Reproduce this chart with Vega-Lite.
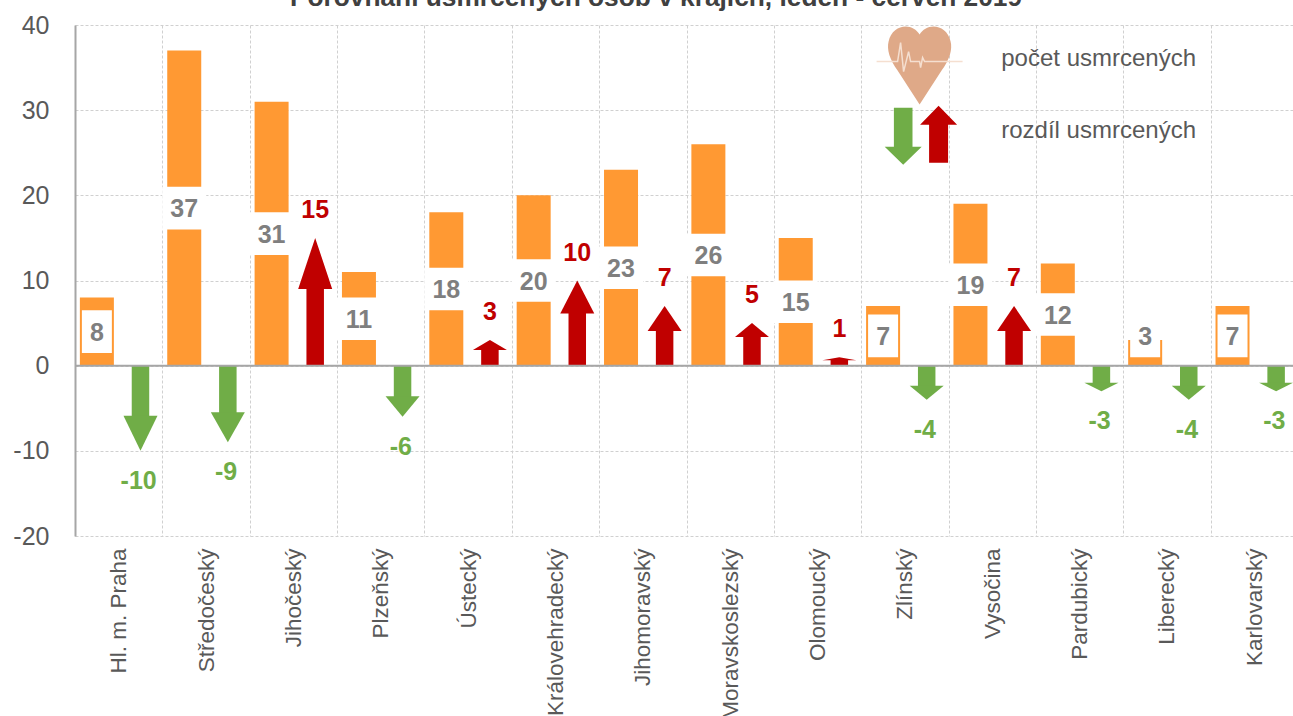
{"$schema":"https://vega.github.io/schema/vega-lite/v6.json","width":1218,"height":511,"autosize":{"type":"none"},"padding":{"left":75,"top":25,"right":0,"bottom":180},"background":"white",
"title":{"text":"Porovnání usmrcených osob v krajích, leden - červen 2019","font":"Liberation Sans","fontSize":26.3,"fontWeight":"bold","color":"#404040","anchor":"middle","frame":"group","dx":-28,"offset":2},
"config":{"view":{"stroke":null},"font":"Liberation Sans"},
"datasets":{"kraje":[
{"kraj":"Hl. m. Praha","pocet":8,"lo":1.5,"hi":6.5,"mid":4,"rozdil":-10,"krk":-6,"smer":"pokles"},
{"kraj":"Středočeský","pocet":37,"lo":16,"hi":21,"mid":18.5,"rozdil":-9,"krk":-5.6,"smer":"pokles"},
{"kraj":"Jihočeský","pocet":31,"lo":13,"hi":18,"mid":15.5,"rozdil":15,"krk":9.1,"smer":"nárůst"},
{"kraj":"Plzeňský","pocet":11,"lo":3,"hi":8,"mid":5.5,"rozdil":-6,"krk":-3.7,"smer":"pokles"},
{"kraj":"Ústecký","pocet":18,"lo":6.5,"hi":11.5,"mid":9,"rozdil":3,"krk":1.9,"smer":"nárůst"},
{"kraj":"Královehradecký","pocet":20,"lo":7.5,"hi":12.5,"mid":10,"rozdil":10,"krk":6.2,"smer":"nárůst"},
{"kraj":"Jihomoravský","pocet":23,"lo":9,"hi":14,"mid":11.5,"rozdil":7,"krk":4.15,"smer":"nárůst"},
{"kraj":"Moravskoslezský","pocet":26,"lo":10.5,"hi":15.5,"mid":13,"rozdil":5,"krk":3.45,"smer":"nárůst"},
{"kraj":"Olomoucký","pocet":15,"lo":5,"hi":10,"mid":7.5,"rozdil":1,"krk":0.7,"smer":"nárůst"},
{"kraj":"Zlínský","pocet":7,"lo":1,"hi":6,"mid":3.5,"rozdil":-4,"krk":-2.5,"smer":"pokles"},
{"kraj":"Vysočina","pocet":19,"lo":7,"hi":12,"mid":9.5,"rozdil":7,"krk":4.15,"smer":"nárůst"},
{"kraj":"Pardubický","pocet":12,"lo":3.5,"hi":8.5,"mid":6,"rozdil":-3,"krk":-2.1,"smer":"pokles"},
{"kraj":"Liberecký","pocet":3,"lo":1,"hi":6,"mid":3.5,"rozdil":-4,"krk":-2.5,"smer":"pokles"},
{"kraj":"Karlovarský","pocet":7,"lo":1,"hi":6,"mid":3.5,"rozdil":-3,"krk":-2.1,"smer":"pokles"}]},
"encoding":{
"x":{"field":"kraj","type":"nominal","sort":null,"title":null,"scale":{"range":[0,1223],"paddingInner":0,"paddingOuter":0},
"axis":{"tickBand":"extent","grid":true,"gridColor":"#d0d0d0","gridDash":[3,2],"gridWidth":1,"domain":false,"ticks":false,"labelAngle":-90,"labelAlign":"right","labelBaseline":"middle","labelFontSize":22.5,"labelColor":"#595959","labelPadding":12,"labelLimit":400,"labelFont":"Liberation Sans","labelOverlap":false}},
"y":{"type":"quantitative","title":null,"scale":{"domain":[-20,40],"nice":false,"zero":false},
"axis":{"values":[-20,-10,0,10,20,30,40],"labelExpr":"''+datum.value","grid":true,"gridColor":"#d0d0d0","gridDash":[3,2],"gridWidth":1,"domain":true,"domainColor":"#a6a6a6","domainWidth":2,"ticks":false,"labelFontSize":25,"labelColor":"#595959","labelPadding":26,"labelFont":"Liberation Sans"}}},
"layer":[
{"data":{"name":"kraje"},"mark":{"type":"bar","size":34,"color":"#FF9933","xOffset":-21.8},"encoding":{"y":{"field":"pocet"},"y2":{"datum":0}}},
{"data":{"name":"kraje"},"transform":[{"filter":"datum.pocet >= 10"}],"mark":{"type":"bar","size":44,"color":"white","xOffset":-21.8},"encoding":{"y":{"field":"lo"},"y2":{"field":"hi"}}},
{"data":{"name":"kraje"},"transform":[{"filter":"datum.pocet < 10"}],"mark":{"type":"bar","size":30,"color":"white","xOffset":-21.8},"encoding":{"y":{"field":"lo"},"y2":{"field":"hi"}}},
{"data":{"name":"kraje"},"mark":{"type":"text","font":"Liberation Sans","fontWeight":"bold","fontSize":25,"color":"#7F7F7F","xOffset":-21.8,"dy":1},"encoding":{"y":{"field":"mid"},"text":{"field":"pocet","type":"nominal"}}},
{"data":{"name":"kraje"},"mark":{"type":"bar","size":17.5,"xOffset":21.8},"encoding":{"y":{"field":"krk"},"y2":{"datum":0},"color":{"field":"smer","type":"nominal","scale":{"domain":["nárůst","pokles"],"range":["#C00000","#70AD47"]},"legend":null}}},
{"data":{"name":"kraje"},"mark":{"type":"point","filled":true,"size":4,"opacity":1,"strokeWidth":0,"xOffset":21.8},"encoding":{"y":{"field":"rozdil"},"color":{"field":"smer","type":"nominal","legend":null},
"shape":{"field":"rozdil","type":"nominal","legend":null,"scale":{"domain":[-10,-9,-6,-4,-3,1,3,5,7,10,15],"range":["M0,0L17,-35L-17,-35Z","M0,0L17,-30L-17,-30Z","M0,0L17,-20.5L-17,-20.5Z","M0,0L17,-14L-17,-14Z","M0,0L17,-8.5L-17,-8.5Z","M0,0L17,3L-17,3Z","M0,0L17,10L-17,10Z","M0,0L17,14L-17,14Z","M0,0L17,25L-17,25Z","M0,0L17,33L-17,33Z","M0,0L17,51L-17,51Z"]}}}},
{"data":{"name":"kraje"},"transform":[{"filter":"datum.rozdil > 0"}],"mark":{"type":"text","font":"Liberation Sans","fontWeight":"bold","fontSize":25,"color":"#C00000","xOffset":21.8,"dy":-28},"encoding":{"y":{"field":"rozdil"},"text":{"field":"rozdil","type":"nominal"}}},
{"data":{"name":"kraje"},"transform":[{"filter":"datum.rozdil < 0"}],"mark":{"type":"text","font":"Liberation Sans","fontWeight":"bold","fontSize":25,"color":"#70AD47","xOffset":20,"dy":30},"encoding":{"y":{"field":"rozdil"},"text":{"field":"rozdil","type":"nominal"}}},
{"data":{"values":[{"nula":0}]},"mark":{"type":"rule","color":"#a6a6a6","strokeWidth":2},"encoding":{"x":null,"y":{"field":"nula"}}},
{"data":{"values":[{"kraj":"Zlínský","poloha":35.7}]},"mark":{"type":"point","filled":true,"size":4,"opacity":1,"strokeWidth":0,"color":"#DFA988","xOffset":14.7,"shape":"M0,43L-22,9C-30,-2 -33,-12 -31,-20C-29,-30 -21,-35 -14,-35C-8,-35 -3,-32 0,-27C3,-32 8,-35 14,-35C21,-35 29,-30 31,-20C33,-12 30,-2 22,9Z"},"encoding":{"y":{"field":"poloha"}}},
{"data":{"values":[{"kraj":"Zlínský","poloha":35.7}]},"mark":{"type":"point","filled":false,"size":4,"opacity":1,"strokeWidth":1.5,"color":"#F5DFD0","xOffset":14.7,"shape":"M-43,0L-22,0L-19,-19L-16,10L-11,-10L-9,0L0,0L1,6L3,-4L5,0L43,0"},"encoding":{"y":{"field":"poloha"}}},
{"data":{"values":[{"kraj":"Zlínský","poloha":27}]},"mark":{"type":"point","filled":true,"size":4,"opacity":1,"strokeWidth":0,"color":"#70AD47","xOffset":-1.7,"shape":"M-9.3,-28L9.3,-28L9.3,11L18.5,11L0,29L-18.5,11L-9.3,11Z"},"encoding":{"y":{"field":"poloha"}}},
{"data":{"values":[{"kraj":"Zlínský","poloha":27}]},"mark":{"type":"point","filled":true,"size":4,"opacity":1,"strokeWidth":0,"color":"#C00000","xOffset":33.7,"shape":"M0,-30L18.5,-11L9.5,-11L9.5,27L-9.5,27L-9.5,-11L-18.5,-11Z"},"encoding":{"y":{"field":"poloha"}}},
{"data":{"values":[{"kraj":"Vysočina","poloha":36,"popis":"počet usmrcených"},{"kraj":"Vysočina","poloha":27.5,"popis":"rozdíl usmrcených"}]},"mark":{"type":"text","align":"left","font":"Liberation Sans","fontSize":24,"color":"#595959","dx":9},"encoding":{"y":{"field":"poloha"},"text":{"field":"popis","type":"nominal"}}}
]}
